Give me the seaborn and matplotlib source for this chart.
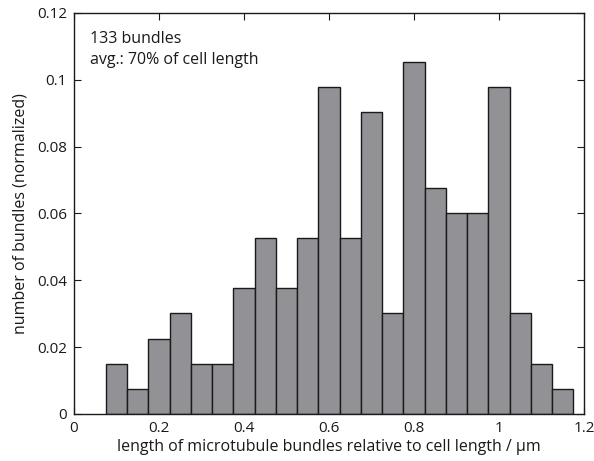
import numpy as np
import pandas as pd
import matplotlib
matplotlib.use("Agg")
import matplotlib.pyplot as plt
import seaborn as sns

# bundle counts per 0.05-wide bin, starting at 0.075
n_bundles = 133
bin_start = 0.075
bin_width = 0.05
counts = [2, 1, 3, 4, 2, 2, 5, 7, 5, 7, 13, 7, 12, 4, 14, 9, 8, 8, 13, 4, 2, 1]

x_ticks = [0, 0.2, 0.4, 0.6, 0.8, 1, 1.2]
x_tick_labels = ["0", "0.2", "0.4", "0.6", "0.8", "1", "1.2"]
y_ticks = [0, 0.02, 0.04, 0.06, 0.08, 0.1, 0.12]
y_tick_labels = ["0", "0.02", "0.04", "0.06", "0.08", "0.1", "0.12"]

sns.set_theme(style="white")
plt.rcParams["font.family"] = ["Open Sans", "DejaVu Sans"]

bin_end = bin_start + bin_width * len(counts)
centers = bin_start + bin_width * (np.arange(len(counts)) + 0.5)
df = pd.DataFrame({"length": centers, "frac": np.array(counts) / n_bundles})

fig = plt.figure(figsize=(5.94, 4.61), dpi=100)
ax = fig.add_axes([0.1246, 0.102, 0.8586, 0.870])

sns.histplot(data=df, x="length", weights="frac", binwidth=bin_width,
             binrange=(bin_start, bin_end), ax=ax,
             color="#929296", edgecolor="#1a1a1a", linewidth=1.0, alpha=1)

ax.set_xlim(0, 1.2)
ax.set_ylim(0, 0.12)
ax.set_xticks(x_ticks)
ax.set_xticklabels(x_tick_labels)
ax.set_yticks(y_ticks)
ax.set_yticklabels(y_tick_labels)
ax.tick_params(direction="in", length=5, width=0.8, top=True, right=True,
               bottom=True, left=True, labelsize=11, colors="#1a1a1a",
               pad=5)
for s in ax.spines.values():
    s.set_color("#1a1a1a")
    s.set_linewidth(1.0)

ax.set_xlabel("length of microtubule bundles relative to cell length / μm",
              fontsize=11.5, color="#1a1a1a", labelpad=2)
ax.set_ylabel("number of bundles (normalized)", fontsize=11.5,
              color="#1a1a1a", labelpad=6)

ax.text(0.031, 0.955, "133 bundles\navg.: 70% of cell length",
        transform=ax.transAxes, ha="left", va="top", fontsize=11.5,
        color="#1a1a1a", linespacing=1.45)

fig.savefig("out.png", dpi=100)
